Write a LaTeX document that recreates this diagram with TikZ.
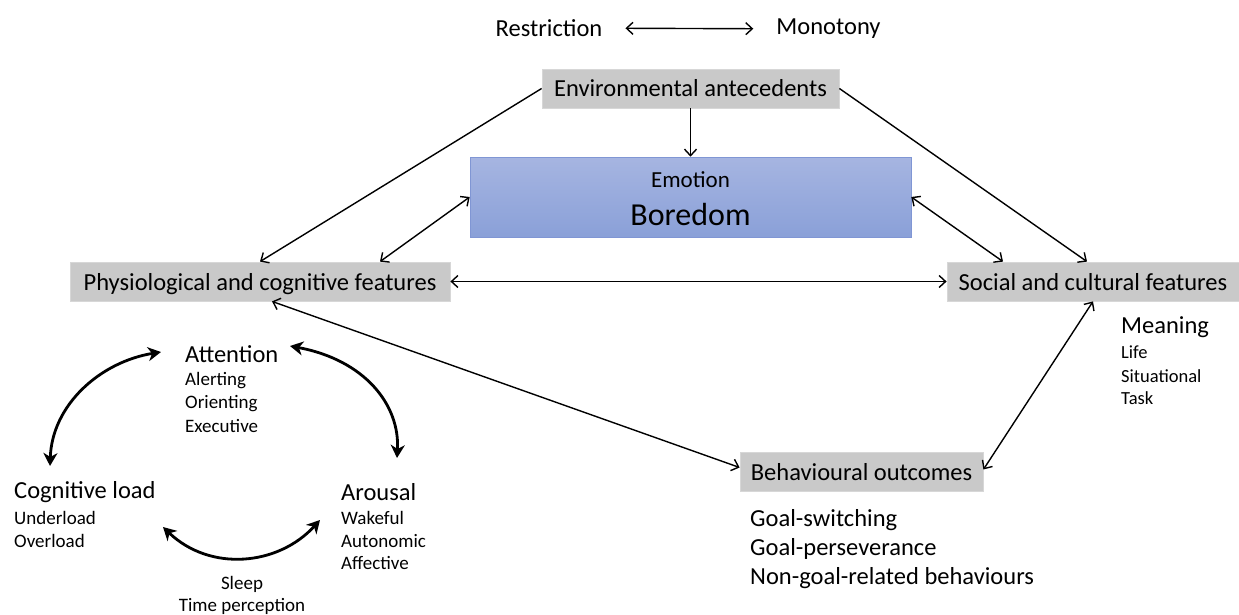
\documentclass[tikz,border=0pt]{standalone}
\usepackage{fontspec}
\setmainfont{Carlito}
\usetikzlibrary{arrows.meta,calc}
\definecolor{boxgray}{RGB}{201,201,201}
\definecolor{boxedge}{RGB}{215,215,215}
\definecolor{blueTop}{RGB}{166,181,225}
\definecolor{blueBot}{RGB}{138,160,216}
\definecolor{blueEdge}{RGB}{128,150,212}
\tikzset{
  gbox/.style={fill=boxgray, draw=boxedge, line width=0.8pt, inner sep=0pt,
    text height=20pt, text depth=3pt, font=\fontsize{24.5}{28}\selectfont},
  lbl/.style={inner sep=0pt, font=\fontsize{24.5}{28}\selectfont},
  sublbl/.style={inner sep=0pt, anchor=west, font=\fontsize{19}{22}\selectfont},
  link/.style={line width=1.4pt, >={Straight Barb[length=6.5pt,width=12pt]}},
  cyc/.style={line width=2.8pt, >={Stealth[length=13pt,width=14pt,inset=4pt]}},
}
\begin{document}
\begin{tikzpicture}[x=1pt,y=-1pt]
\useasboundingbox (0,0) rectangle (1239,615);

% top pair
\node[lbl] (restr) at (549,28) {Restriction};
\node[lbl] (mono) at (828.5,29) {Monotony};
\draw[link,<->,shorten <=23pt,shorten >=23pt] (restr) -- (mono);

% boxes
\node[gbox, minimum width=297pt, minimum height=39pt] (env) at (690.5,88.5) {Environmental antecedents};
\node[inner sep=0pt, minimum width=441pt, minimum height=80pt, draw=blueEdge, line width=0.6pt,
      top color=blueTop, bottom color=blueBot] (emo) at (690.5,197) {};
\node[inner sep=0pt, font=\fontsize{23}{26}\selectfont] (emolbl) at (690.5,180) {Emotion};
\node[inner sep=0pt, font=\fontsize{32}{36}\selectfont] (bored) at (690.5,214) {Boredom};
\node[gbox, minimum width=380pt, minimum height=39pt] (phys) at (260,281.5) {Physiological and cognitive features};
\node[gbox, minimum width=292pt, minimum height=39pt] (soc) at (1093,281.5) {Social and cultural features};
\node[gbox, minimum width=243pt, minimum height=39pt] (beh) at (861.5,471.5) {Behavioural outcomes};

% connectors
\draw[link,->] (env) -- (emo);
\draw[link,->] (env.west) -- (phys.north);
\draw[link,->] (env.east) -- ([xshift=-6pt]soc.north);
\draw[link,<->] ([xshift=120pt]phys.north) -- (emo.west);
\draw[link,<->] (emo.east) -- ([xshift=-90pt]soc.north);
\draw[link,<->] (phys.east) -- (soc.west);
\draw[link,<->] ([xshift=12pt]phys.south) -- ([yshift=4pt]beh.west);
\draw[link,<->] ([yshift=2pt]beh.east) -- (soc.south);

% meaning
\node[lbl, anchor=west] (mean) at (1121,327) {Meaning};
\node[sublbl, font=\fontsize{18.5}{22}\selectfont] (m1) at (1121,352) {Life};
\node[sublbl, font=\fontsize{18.5}{22}\selectfont] (m2) at (1121,376) {Situational};
\node[sublbl, font=\fontsize{18.5}{22}\selectfont] (m3) at (1121,398) {Task};

% behaviours
\node[lbl, anchor=west] (b1) at (750,520) {Goal-switching};
\node[lbl, anchor=west] (b2) at (750,549) {Goal-perseverance};
\node[lbl, anchor=west] (b3) at (750,578) {Non-goal-related behaviours};

% cycle
\node[lbl, anchor=west] (att) at (185,354) {Attention};
\node[sublbl] (att1) at (185,381) {Alerting};
\node[sublbl] (att2) at (185,404) {Orienting};
\node[sublbl] (att3) at (185,426) {Executive};

\node[lbl, anchor=west] (cog) at (14,492) {Cognitive load};
\node[sublbl] (cog1) at (14,518) {Underload};
\node[sublbl] (cog2) at (14,541) {Overload};

\node[lbl, anchor=west] (aro) at (341,492) {Arousal};
\node[sublbl] (aro1) at (341,518) {Wakeful};
\node[sublbl] (aro2) at (341,541) {Autonomic};
\node[sublbl] (aro3) at (341,563) {Affective};

\node[sublbl, anchor=center] (slp) at (242,584) {Sleep};
\node[sublbl, anchor=center] (tim) at (242,606) {Time perception};

\coordinate (attL) at (161,352);
\coordinate (attR) at (290,346);
\coordinate (cogT) at (50,466);
\coordinate (cogR) at (163,527);
\coordinate (aroT) at (397,458);
\coordinate (aroL) at (320,520);

\draw[cyc,<->] (attL) .. controls (100,362) and (52,405) .. (cogT);
\draw[cyc,<->] (attR) .. controls (365,360) and (400,405) .. (aroT);
\draw[cyc,<->] (cogR) .. controls (210,572) and (278,566) .. (aroL);
\end{tikzpicture}
\end{document}
